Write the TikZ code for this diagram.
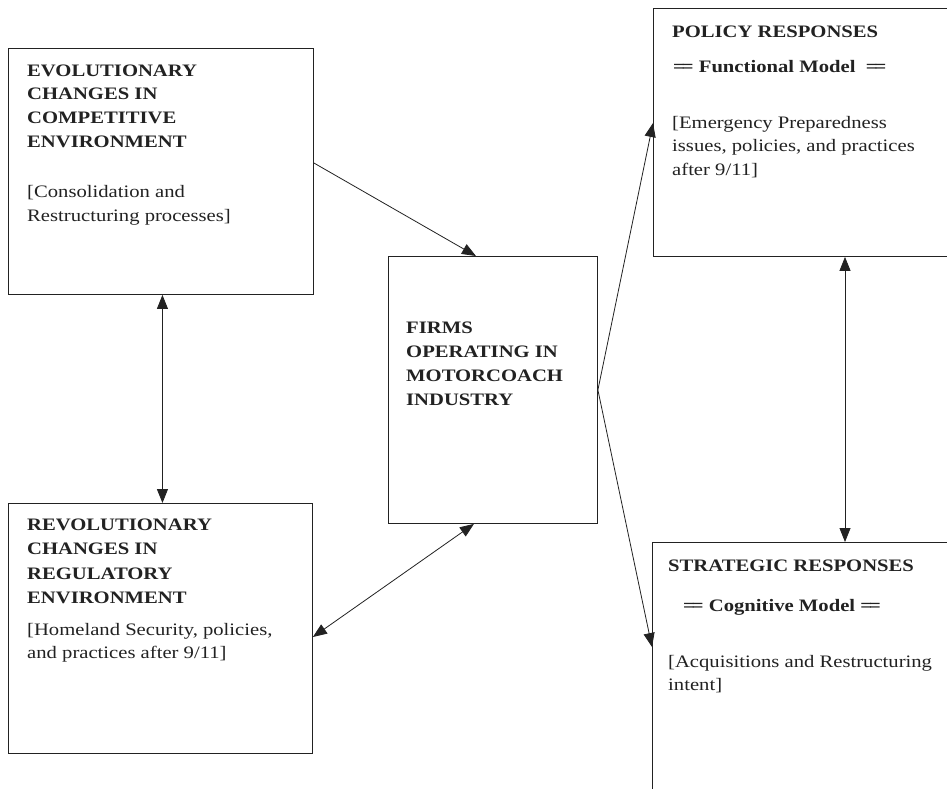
\documentclass[tikz,border=0pt]{standalone}
\usepackage{fontspec}
\setmainfont{Liberation Serif}[FakeStretch=1.18]
\usetikzlibrary{arrows.meta}
\definecolor{ink}{HTML}{222222}
\tikzset{
  box/.style={draw=ink, line width=0.9pt, rectangle, inner sep=0pt, anchor=north west},
  txt/.style={anchor=north west, inner sep=0pt, align=left, text=ink,
    font=\fontsize{17.5}{23.5}\selectfont},
  conn/.style={draw=ink, line width=0.8pt},
  tip/.tip={Triangle[length=14pt,width=11pt]}
}
\newcommand{\fs}{\rule{0pt}{13pt}}
\newcommand{\dbl}{=\kern-3pt=}
\begin{document}
\begin{tikzpicture}[x=1pt,y=-1pt]
\useasboundingbox (0,0) rectangle (947,789);
\clip (0,0) rectangle (947,789);
\fill[white] (0,0) rectangle (947,789);
% boxes
\node[box, minimum width=305pt, minimum height=246pt] (A) at (8,48) {};
\node[box, minimum width=304pt, minimum height=250pt] (B) at (8,503) {};
\node[box, minimum width=209pt, minimum height=267pt] (C) at (388,256) {};
\node[box, minimum width=330pt, minimum height=248pt] (D) at (653,8) {};
\node[box, minimum width=330pt, minimum height=280pt] (E) at (652,542) {};
% texts
\node[txt] (tA) at (27,63) {\fs\textbf{EVOLUTIONARY}\\\textbf{CHANGES IN}\\[0.5pt]\textbf{COMPETITIVE}\\[0.5pt]\textbf{ENVIRONMENT}\\[26.5pt][Consolidation and\\Restructuring processes]};
\node[txt] (tB) at (27,517) {\fs\textbf{REVOLUTIONARY}\\[1pt]\textbf{CHANGES IN}\\[1pt]\textbf{REGULATORY}\\[1pt]\textbf{ENVIRONMENT}\\[8pt][Homeland Security, policies,\\and practices after 9/11]};
\node[txt] (tC) at (406,320) {\fs\textbf{FIRMS}\\[0.5pt]\textbf{OPERATING IN}\\[0.5pt]\textbf{MOTORCOACH}\\[0.5pt]\textbf{INDUSTRY}};
\node[txt] (tD) at (672,24) {\fs\textbf{POLICY RESPONSES}\\[11.5pt]\hspace{1pt}\textbf{\dbl\ Functional Model\ \ \dbl}\\[32.5pt][Emergency Preparedness\\issues, policies, and practices\\after 9/11]};
\node[txt] (tE) at (668,558) {\fs\textbf{STRATEGIC RESPONSES}\\[16.5pt]\hspace{15pt}\textbf{\dbl\ Cognitive Model \dbl}\\[32.5pt][Acquisitions and Restructuring\\intent]};
% connectors
\draw[conn, -tip] ([yshift=-115pt]A.north east) -- ([xshift=-17pt]C.north);
\draw[conn, tip-tip] ([xshift=1.5pt]A.south) -- ([xshift=2pt]B.north);
\draw[conn, tip-tip] ([xshift=-19pt]C.south) -- ([yshift=-134pt]B.north east);
\draw[conn, -tip] (C.east) -- ([yshift=-115pt]D.north west);
\draw[conn, -tip] (C.east) -- ([yshift=-105pt]E.north west);
\draw[conn, tip-tip] ([xshift=192pt]D.south west) -- ([xshift=193pt]E.north west);
\end{tikzpicture}
\end{document}
